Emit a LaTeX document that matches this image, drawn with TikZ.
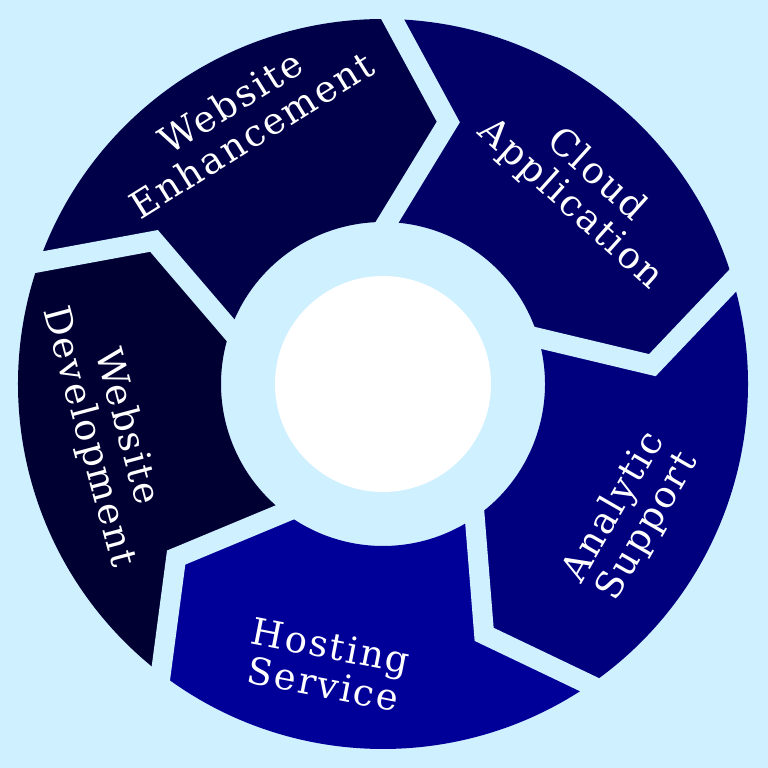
\documentclass[tikz,border=0pt]{standalone}
\usepackage{fontspec}
\setmainfont{DejaVu Serif}[LetterSpace=5.5]
\usetikzlibrary{calc}
\definecolor{bgc}{HTML}{CFF0FF}
\definecolor{cenh}{HTML}{000048}
\definecolor{ccloud}{HTML}{000066}
\definecolor{cana}{HTML}{00007F}
\definecolor{chost}{HTML}{000099}
\definecolor{cdev}{HTML}{000033}
\begin{document}
\begin{tikzpicture}[x=1pt,y=1pt,
  lbl/.style={text=white, font=\fontsize{37}{39}\selectfont, align=center, inner sep=0pt},
  gapline/.style={bgc, line width=20pt, miter limit=10, shorten <=-30pt, shorten >=-30pt}]
\fill[bgc] (0,0) rectangle (768,768);
\useasboundingbox (0,0) rectangle (768,768);
\begin{scope}[shift={(383,384)}]
  \foreach \b/\c in {160.5/cenh, 88.5/ccloud, 16.5/cana, -55.5/chost, -127.5/cdev} {
    \fill[\c] (\b:365) -- (\b-12.5:270) -- (\b:162)
      arc[start angle=\b, end angle=\b-72, radius=162]
      -- (\b-84.5:270) -- (\b-72:365)
      arc[start angle=\b-72, end angle=\b, radius=365] -- cycle;
  }
  \foreach \b in {160.5, 88.5, 16.5, -55.5, -127.5}
    \draw[gapline] (\b:365) -- (\b-12.5:270) -- (\b:162);
  \fill[white] (0,0) circle[radius=108];
\end{scope}
\node[lbl, rotate=32] (enh) at (241,650) {Website\\Enhancement};
\node[lbl, rotate=-42] (cloud) at (583,578) {Cloud\\Application};
\node[lbl, rotate=60] (ana) at (631,251) {Analytic\\Support};
\node[lbl, rotate=-11] (host) at (327,103) {Hosting\\Service};
\node[lbl, rotate=-75] (dev) at (107,336) {Website\\Development};
\end{tikzpicture}
\end{document}
